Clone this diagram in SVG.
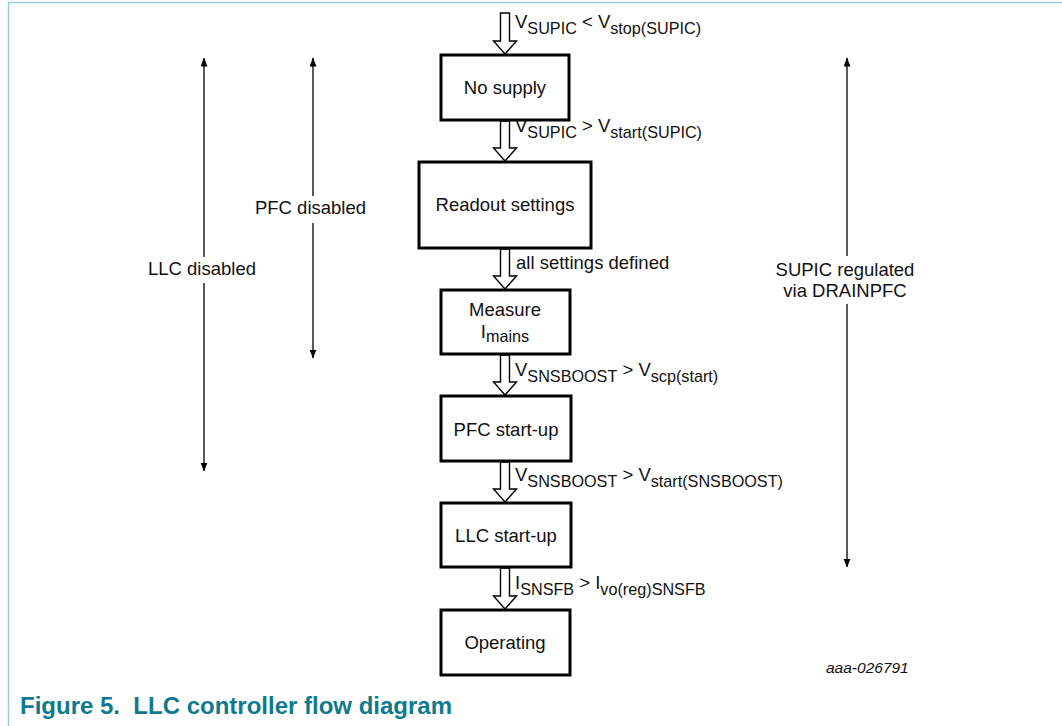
<svg xmlns="http://www.w3.org/2000/svg" width="1062" height="726" viewBox="0 0 1062 726">
  <style>
    .frame { stroke: #9bcfd8; stroke-width: 1.5; fill: none; }
    .box { fill: #ffffff; stroke: #000000; stroke-width: 3; }
    .t { font-family: "Liberation Sans", Arial, sans-serif; font-size: 18.5px; fill: #111111; }
    .sub { font-size: 16.2px; }
    .hollow { fill: #ffffff; stroke: #000000; stroke-width: 1.4; stroke-linejoin: miter; }
    .span { stroke: #222222; stroke-width: 1.5; fill: none; }
    .cap { font-family: "Liberation Sans", Arial, sans-serif; font-size: 24px; font-weight: bold; fill: #0f7a8d; }
    .id { font-family: "Liberation Sans", Arial, sans-serif; font-size: 15.5px; font-style: italic; fill: #111111; }
  </style>
  <defs>
    <marker id="ah" markerUnits="userSpaceOnUse" markerWidth="10" markerHeight="8" refX="8.5" refY="3.5" orient="auto-start-reverse">
      <path d="M0,0 L9,3.5 L0,7 z" fill="#000000"/>
    </marker>
  </defs>

  <g id="frame">
    <line class="frame" x1="8" y1="2.5" x2="1062" y2="2.5"/>
    <line class="frame" x1="8.5" y1="2" x2="8.5" y2="726"/>
  </g>

  <g id="connectors">
    <polygon class="hollow" points="500.5,13 509.5,13 509.5,41 516.5,41 505,54 493.5,41 500.5,41"/>
    <polygon class="hollow" points="500.5,121 509.5,121 509.5,148 516.5,148 505,161 493.5,148 500.5,148"/>
    <polygon class="hollow" points="500.5,249 509.5,249 509.5,276 516.5,276 505,289 493.5,276 500.5,276"/>
    <polygon class="hollow" points="500.5,355 509.5,355 509.5,382 516.5,382 505,395 493.5,382 500.5,382"/>
    <polygon class="hollow" points="500.5,462 509.5,462 509.5,489 516.5,489 505,502 493.5,489 500.5,489"/>
    <polygon class="hollow" points="500.5,568 509.5,568 509.5,596 516.5,596 505,609 493.5,596 500.5,596"/>

    <text class="t" x="515" y="28">V<tspan class="sub" dy="6">SUPIC</tspan><tspan dy="-6"> &lt; V</tspan><tspan class="sub" dy="6">stop(SUPIC)</tspan></text>
    <text class="t" x="515" y="132">V<tspan class="sub" dy="6">SUPIC</tspan><tspan dy="-6"> &gt; V</tspan><tspan class="sub" dy="6">start(SUPIC)</tspan></text>
    <text class="t" x="516" y="269">all settings defined</text>
    <text class="t" x="515" y="376">V<tspan class="sub" dy="6">SNSBOOST</tspan><tspan dy="-6"> &gt; V</tspan><tspan class="sub" dy="6">scp(start)</tspan></text>
    <text class="t" x="515" y="481">V<tspan class="sub" dy="6">SNSBOOST</tspan><tspan dy="-6"> &gt; V</tspan><tspan class="sub" dy="6">start(SNSBOOST)</tspan></text>
    <text class="t" x="515" y="589">I<tspan class="sub" dy="6">SNSFB</tspan><tspan dy="-6"> &gt; I</tspan><tspan class="sub" dy="6">vo(reg)SNSFB</tspan></text>
  </g>

  <g id="span-llc">
    <line class="span" x1="204" y1="58" x2="204" y2="257" marker-start="url(#ah)"/>
    <line class="span" x1="204" y1="283" x2="204" y2="471" marker-end="url(#ah)"/>
    <text class="t" x="202" y="275" text-anchor="middle">LLC disabled</text>
  </g>
  <g id="span-pfc">
    <line class="span" x1="313" y1="58" x2="313" y2="196" marker-start="url(#ah)"/>
    <line class="span" x1="313" y1="223" x2="313" y2="358" marker-end="url(#ah)"/>
    <text class="t" x="310.5" y="214" text-anchor="middle">PFC disabled</text>
  </g>
  <g id="span-supic">
    <line class="span" x1="847" y1="58" x2="847" y2="256" marker-start="url(#ah)"/>
    <line class="span" x1="847" y1="304" x2="847" y2="567" marker-end="url(#ah)"/>
    <text class="t" x="845" y="276" text-anchor="middle">SUPIC regulated</text>
    <text class="t" x="845" y="297" text-anchor="middle">via DRAINPFC</text>
  </g>

  <g id="node-no-supply">
    <rect class="box" x="441" y="55" width="128" height="65"/>
    <text class="t" x="505" y="94" text-anchor="middle">No supply</text>
  </g>
  <g id="node-readout">
    <rect class="box" x="419" y="162" width="172" height="86"/>
    <text class="t" x="505" y="211" text-anchor="middle">Readout settings</text>
  </g>
  <g id="node-measure">
    <rect class="box" x="441" y="290" width="129" height="64"/>
    <text class="t" x="505" y="316" text-anchor="middle">Measure</text>
    <text class="t" x="505" y="338" text-anchor="middle">I<tspan class="sub" dy="4">mains</tspan></text>
  </g>
  <g id="node-pfc">
    <rect class="box" x="441" y="396" width="130" height="65"/>
    <text class="t" x="506" y="436" text-anchor="middle">PFC start-up</text>
  </g>
  <g id="node-llc">
    <rect class="box" x="441" y="503" width="130" height="64"/>
    <text class="t" x="506" y="542" text-anchor="middle">LLC start-up</text>
  </g>
  <g id="node-operating">
    <rect class="box" x="441" y="610" width="129" height="65"/>
    <text class="t" x="505" y="649" text-anchor="middle">Operating</text>
  </g>

  <text class="id" x="826" y="673">aaa-026791</text>
  <text class="cap" x="20" y="714" xml:space="preserve">Figure 5.  LLC controller flow diagram</text>
</svg>
